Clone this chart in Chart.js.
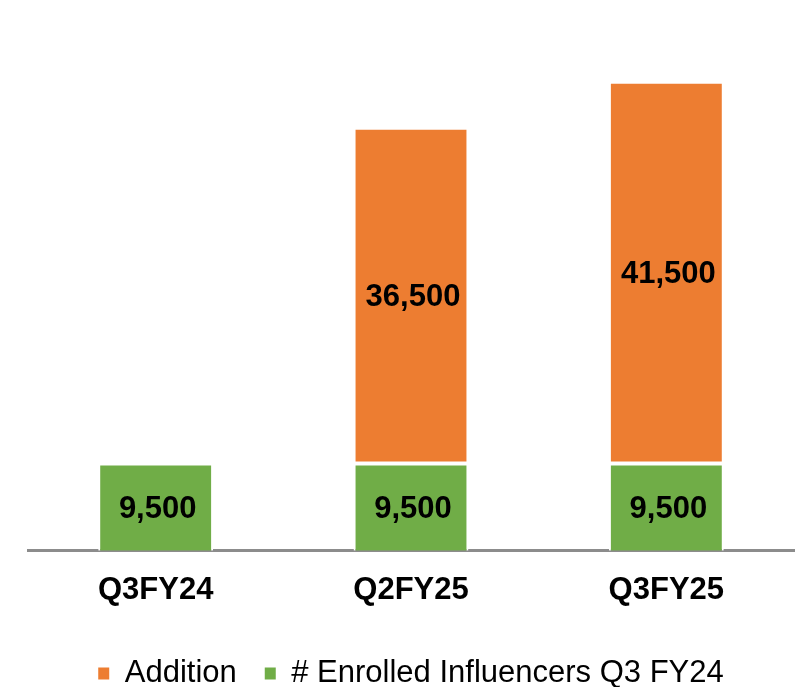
<!DOCTYPE html>
<html>
<head>
<meta charset="utf-8">
<script src="https://cdn.jsdelivr.net/npm/chart.js@4.4.1/dist/chart.umd.min.js"></script>
<style>
  html, body { margin: 0; padding: 0; background: #ffffff; }
  #wrap { width: 800px; height: 687px; }
</style>
</head>
<body>
<div id="wrap"><canvas id="c" width="800" height="687"></canvas></div>
<script>
const categories = ["Q3FY24", "Q2FY25", "Q3FY25"];
const enrolledQ3FY24 = [9500, 9500, 9500];
const additions = [null, 36500, 41500];
const seriesNames = ["# Enrolled Influencers Q3 FY24", "Addition"];
const seriesColors = ["#70AD47", "#ED7D31"];

const valueLabels = {
  id: 'valueLabels',
  afterDatasetsDraw(chart) {
    const ctx = chart.ctx;
    ctx.save();
    ctx.font = 'bold 31px "Liberation Sans", Arial, sans-serif';
    ctx.fillStyle = '#000000';
    ctx.textAlign = 'center';
    ctx.textBaseline = 'middle';
    chart.data.datasets.forEach((ds, di) => {
      const meta = chart.getDatasetMeta(di);
      meta.data.forEach((bar, i) => {
        const v = ds.data[i];
        if (v === null || v === undefined) return;
        const p = bar.getProps(['x', 'y', 'base'], true);
        ctx.fillText(v.toLocaleString('en-US'), p.x + 2, (p.y + p.base) / 2 + 2);
      });
    });
    ctx.restore();
  }
};

new Chart(document.getElementById('c'), {
  type: 'bar',
  data: {
    labels: categories,
    datasets: [
      { label: seriesNames[0], data: enrolledQ3FY24, backgroundColor: seriesColors[0],
        borderColor: '#ffffff', borderWidth: 2, borderSkipped: 'bottom', stack: 's' },
      { label: seriesNames[1], data: additions, backgroundColor: seriesColors[1],
        borderColor: '#ffffff', borderWidth: 2, borderSkipped: false, stack: 's' }
    ]
  },
  options: {
    responsive: false,
    animation: false,
    layout: { padding: { left: 28, right: 6, top: 45, bottom: -12 } },
    datasets: { bar: { categoryPercentage: 1.0, barPercentage: 0.45 } },
    scales: {
      x: {
        stacked: true,
        grid: { display: false, drawTicks: false },
        border: { display: true, color: '#8c8c8c', width: 3 },
        ticks: { color: '#000000', padding: 21,
          font: { family: '"Liberation Sans", Arial, sans-serif', size: 31, weight: 'bold' } }
      },
      y: {
        stacked: true,
        display: false,
        min: 0,
        max: 55000
      }
    },
    plugins: {
      legend: {
        position: 'bottom',
        reverse: true,
        labels: {
          color: '#000000',
          boxWidth: 11,
          boxHeight: 12,
          padding: 28,
          font: { family: '"Liberation Sans", Arial, sans-serif', size: 31 },
          generateLabels: (chart) =>
            Chart.defaults.plugins.legend.labels.generateLabels(chart)
              .map(l => Object.assign(l, { lineWidth: 0, strokeStyle: 'rgba(0,0,0,0)' }))
        }
      },
      tooltip: { enabled: false }
    }
  },
  plugins: [valueLabels]
});
</script>
</body>
</html>
